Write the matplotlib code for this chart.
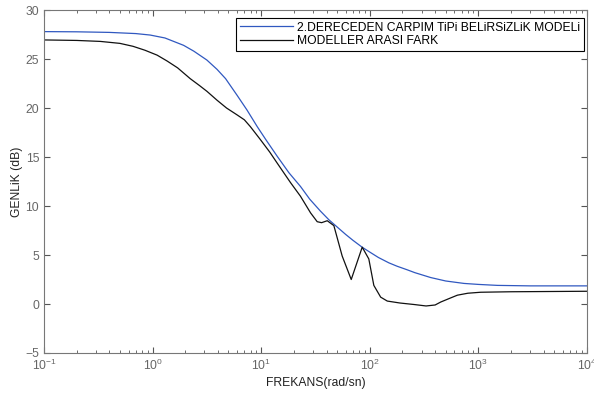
import matplotlib
matplotlib.use("Agg")
import matplotlib.pyplot as plt

plt.rcParams['font.family'] = ['Liberation Sans', 'DejaVu Sans']
plt.rcParams['mathtext.fontset'] = 'custom'
plt.rcParams['mathtext.rm'] = 'Liberation Sans'
plt.rcParams['mathtext.default'] = 'regular'

# readings from the reference
w_blue = [0.1, 0.2, 0.4, 0.7, 0.95, 1.3, 1.93, 2.4, 3.16, 3.92, 4.7, 6.0, 7.4,
          9.2, 11, 14, 18, 23, 28, 35, 42, 52, 60, 70, 85, 100, 120, 150, 179,
          220, 260, 364, 500, 738, 1000, 1500, 3000, 10000]
g_blue = [27.8, 27.78, 27.72, 27.6, 27.45, 27.15, 26.4, 25.8, 24.9, 23.95, 23.0,
          21.3, 19.8, 18.1, 16.8, 15.1, 13.4, 12.0, 10.7, 9.5, 8.6, 7.7, 7.1,
          6.5, 5.8, 5.3, 4.75, 4.2, 3.85, 3.5, 3.2, 2.7, 2.35, 2.1, 2.0, 1.9,
          1.85, 1.85]

w_diff = [0.1, 0.2, 0.33, 0.5, 0.66, 0.85, 1.1, 1.36, 1.7, 2.22, 2.7, 3.17, 3.92,
          4.8, 6.0, 7.0, 7.95, 9.8, 12, 14, 18.6, 23, 28.5, 32.8, 36, 40.6,
          46.7, 55.7, 67.5, 85.2, 98, 109, 126, 145, 190, 255, 330, 400, 450,
          550, 641, 800, 1050, 2000, 10000]
g_diff = [26.95, 26.9, 26.8, 26.6, 26.3, 25.9, 25.4, 24.8, 24.1, 23.0, 22.3,
          21.7, 20.8, 20.0, 19.3, 18.8, 18.1, 16.8, 15.5, 14.4, 12.4, 11.0, 9.3,
          8.4, 8.3, 8.5, 8.0, 4.9, 2.5, 5.8, 4.6, 1.9, 0.7, 0.3, 0.1, -0.05,
          -0.2, -0.1, 0.2, 0.6, 0.9, 1.1, 1.2, 1.25, 1.3]

fig = plt.figure(figsize=(5.94, 3.96), dpi=100)
ax = fig.add_axes([0.0741, 0.1086, 0.914, 0.866])

ax.semilogx(w_blue, g_blue, color='#3058c0', lw=0.9,
            label='2.DERECEDEN CARPIM TiPi BELiRSiZLiK MODELi')
ax.semilogx(w_diff, g_diff, color='#111111', lw=0.9, label='MODELLER ARASI FARK')

ax.set_xlim(0.1, 1e4)
ax.set_ylim(-5, 30)
ax.set_yticks(range(-5, 31, 5))
ax.set_xlabel('FREKANS(rad/sn)', fontsize=8.7, labelpad=3, color='#222222')
ax.set_ylabel('GENLiK (dB)', fontsize=8.7, labelpad=2, color='#222222')
ax.tick_params(which='both', direction='in', top=True, right=True,
               labelsize=8.7, colors='#555555', labelcolor='#666666')
ax.tick_params(which='major', length=4)
ax.tick_params(which='minor', length=2)
for s in ax.spines.values():
    s.set_color('#777777')
    s.set_linewidth(0.8)

leg = ax.legend(loc='upper right', bbox_to_anchor=(0.9945, 0.9767),
                borderaxespad=0, fontsize=8.7, fancybox=False, framealpha=1,
                edgecolor='black', handlelength=4.4, handletextpad=0.35,
                borderpad=0.3, labelspacing=0.15)
leg.get_frame().set_linewidth(0.8)

fig.savefig('out.png', dpi=100)
